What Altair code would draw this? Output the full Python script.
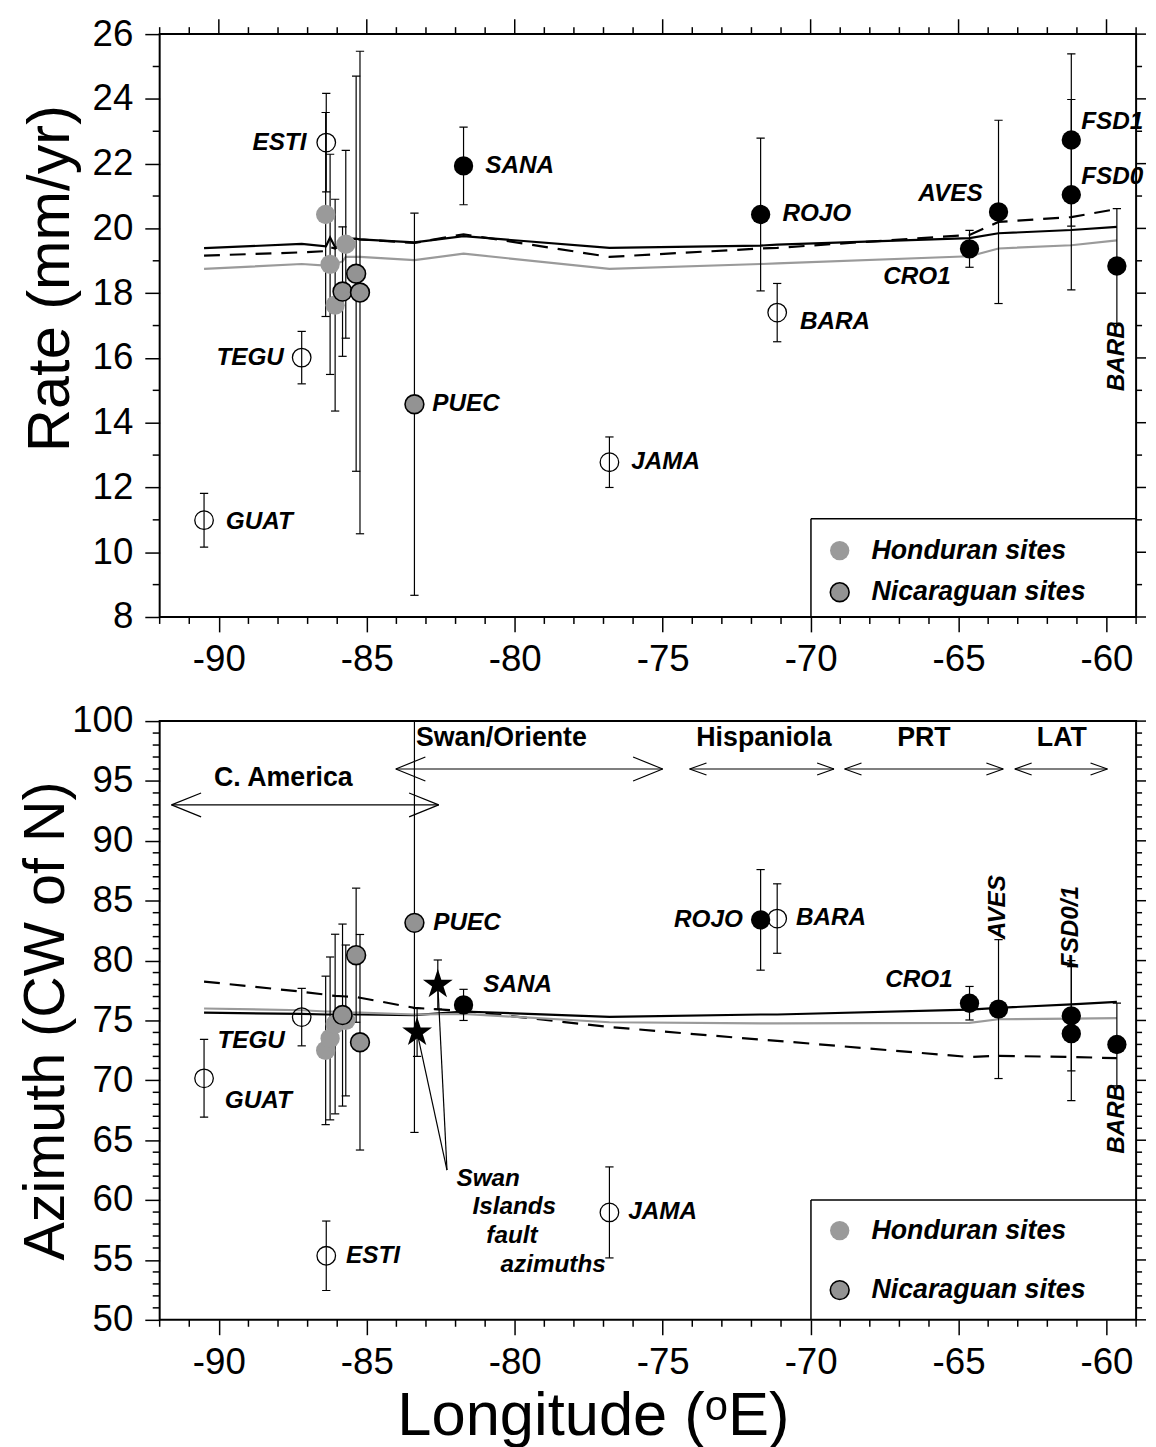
import altair as alt
import pandas as pd

FONT = "Liberation Sans"

# ---------------- data ----------------
sites = ["GUAT", "TEGU", "ESTI", "HON1", "HON2", "HON3", "HON4", "NIC1", "NIC2", "NIC3",
         "PUEC", "SANA", "JAMA", "ROJO", "BARA", "CRO1", "AVES", "FSD0", "FSD1", "BARB"]
kind = ["open", "open", "open", "hond", "hond", "hond", "hond", "nica", "nica", "nica",
        "nica", "black", "open", "black", "open", "black", "black", "black", "black", "black"]
lon = [-90.50, -87.20, -86.37, -86.39, -86.24, -86.07, -85.71, -85.82, -85.36, -85.23,
       -83.39, -81.73, -76.80, -71.69, -71.13, -64.63, -63.65, -61.19, -61.19, -59.65]
rate = [10.99, 16.01, 22.65, 20.43, 18.89, 17.63, 19.51, 18.05, 18.60, 18.02,
        14.57, 21.93, 12.78, 20.43, 17.40, 19.37, 20.51, 21.04, 22.73, 18.84]
rate_err = [0.83, 0.81, 1.52, 3.15, 3.40, 3.27, 2.90, 2.00, 6.10, 7.45,
            5.90, 1.20, 0.78, 2.36, 0.90, 0.57, 2.83, 2.94, 2.66, 1.77]
azimuth = [70.17, 75.28, 55.35, 72.50, 73.50, 74.70, 75.00, 75.45, 80.45, 73.18,
           83.15, 76.30, 58.97, 83.40, 83.51, 76.44, 75.95, 73.90, 75.39, 72.99]
azimuth_err = [3.25, 2.40, 2.90, 6.20, 6.80, 7.50, 6.30, 7.60, 5.60, 9.00,
               17.50, 1.30, 3.80, 4.20, 2.90, 1.40, 5.80, 5.60, 4.60, 3.45]

star_lon = [-83.30, -82.60]
star_az = [74.0, 78.0]
star_err = [2.0, 2.05]

model_lon = [-90.50, -87.20, -86.38, -86.24, -86.07, -85.82, -85.71, -85.36, -85.23,
             -83.39, -81.73, -76.80, -71.69, -71.13, -64.63, -63.65, -61.19, -59.65]
rate_black = [19.39, 19.52, 19.45, 19.72, 19.42, 19.50, 19.70, 19.68, 19.66,
              19.57, 19.76, 19.40, 19.47, 19.50, 19.70, 19.85, 19.95, 20.05]
rate_dash = [19.16, 19.26, 19.30, 19.42, 19.38, 19.52, 19.65, 19.68, 19.66,
             19.55, 19.82, 19.12, 19.38, 19.40, 19.80, 20.20, 20.35, 20.60]
rate_gray = [18.75, 18.90, 18.85, 18.88, 18.90, 18.98, 19.12, 19.12, 19.12,
             19.02, 19.22, 18.75, 18.90, 18.92, 19.14, 19.38, 19.48, 19.63]
az_black = [75.65, 75.55, 75.50, 75.50, 75.50, 75.50, 75.50, 75.50, 75.50,
            75.45, 75.75, 75.30, 75.50, 75.50, 75.90, 76.05, 76.35, 76.55]
az_dash = [78.25, 77.40, 77.15, 77.10, 77.05, 77.02, 77.00, 76.95, 76.90,
           76.05, 75.80, 74.45, 73.40, 73.30, 71.95, 72.05, 71.95, 71.85]
az_gray = [76.00, 75.85, 75.75, 75.75, 75.72, 75.70, 75.68, 75.65, 75.65,
           75.50, 75.55, 74.85, 74.75, 74.75, 74.80, 75.10, 75.15, 75.20]

region_names = ["C. America", "Swan/Oriente", "Hispaniola", "PRT", "LAT"]
region_start = [-91.60, -84.02, -74.09, -68.85, -63.10]
region_end = [-82.57, -75.00, -69.21, -63.49, -59.97]
region_level = [93.0, 96.0, 96.0, 96.0, 96.0]
region_text_lon = [-87.82, -80.45, -71.58, -66.17, -61.51]
region_text_val = [95.2, 98.6, 98.6, 98.6, 98.6]

swan_words = ["Swan", "Islands", "fault", "azimuths"]
swan_word_lon = [-81.97, -81.43, -80.96, -80.48]
swan_word_val = [61.78, 59.38, 56.98, 54.58]
swan_target = [-82.29, 62.5]

legend_names = ["Honduran sites", "Nicaraguan sites"]

x_major = [-90, -85, -80, -75, -70, -65, -60]
x_minor = [v for v in range(-92, -58) if v % 5 != 0]
rate_major = list(range(8, 27, 2))
rate_minor = list(range(9, 26, 2))
az_major = list(range(50, 101, 5))
az_minor = [v for v in range(51, 100) if v % 5 != 0]

# ---------------- layout / style constants ----------------
W = 985
H_TOP = 588
H_BOT = 604
CAP = 0.14  # half width of error-bar caps (degrees of longitude)
STAR = ("M0,-1L0.2245,-0.309L0.951,-0.309L0.363,0.118L0.588,0.809L0,0.382"
        "L-0.588,0.809L-0.363,0.118L-0.951,-0.309L-0.2245,-0.309Z")
XS = alt.Scale(domain=[-92, -59], nice=False, zero=False)
RS = alt.Scale(domain=[8, 26], nice=False, zero=False)
AS = alt.Scale(domain=[50, 100], nice=False, zero=False)
LBL = dict(font=FONT, fontSize=24.5, fontWeight="bold", fontStyle="italic", color="black")
PLAIN = "'' + datum.value"  # hyphen-minus labels, as in the original figure


def x_axis(title=None):
    kw = dict(values=x_major, tickSize=15, tickWidth=1.5, tickColor="black", domain=False,
              grid=False, labelFont=FONT, labelFontSize=37, labelColor="black",
              labelPadding=10, labelFlush=False, labelExpr=PLAIN, title=title)
    if title:
        kw.update(titleFont=FONT, titleFontSize=62, titleFontWeight="normal",
                  titleColor="black", titleX=437, titleY=97, titleBaseline="middle",
                  titleAlign="center")
    return alt.Axis(**kw)


def y_axis(values, title, tx, size, ty=None):
    kw = dict(values=values, tickSize=15, tickWidth=1.5, tickColor="black", domain=False,
              grid=False, labelFont=FONT, labelFontSize=37, labelColor="black",
              labelPadding=12, labelExpr=PLAIN, title=title, titleFont=FONT, titleFontSize=size,
              titleFontWeight="normal", titleColor="black", titleX=tx,
              titleAngle=270, titleBaseline="middle", titleAlign="center")
    if ty is not None:
        kw["titleY"] = ty
    return alt.Axis(**kw)


class Panel:
    """Holds the scales and axes of one panel so every layer shares identical definitions."""

    def __init__(self, ys, xax, yax):
        self.ys, self.xax, self.yax = ys, xax, yax

    def ex(self, field="lon"):
        return alt.X(f"{field}:Q", scale=XS, axis=self.xax)

    def ey(self, field="val"):
        return alt.Y(f"{field}:Q", scale=self.ys, axis=self.yax)


def site_frame(values, errors):
    df = pd.DataFrame({"site": sites, "kind": kind, "lon": lon, "val": values, "err": errors})
    df["lo"] = df["val"] - df["err"]
    df["hi"] = df["val"] + df["err"]
    return df


def model_layers(p, series):
    out = []
    for vals, color, dash in series:
        df = pd.DataFrame({"lon": model_lon, "val": vals})
        mk = dict(color=color, strokeWidth=2.2)
        if dash:
            mk["strokeDash"] = dash
        out.append(alt.Chart(df).mark_line(**mk).encode(x=p.ex(), y=p.ey()))
    return out


def error_layers(p, df):
    bars = alt.Chart(df).mark_rule(color="black", strokeWidth=1.2, clip=True).encode(
        x=p.ex(), y=p.ey("lo"), y2=alt.Y2("hi:Q"))
    caps = pd.DataFrame({
        "lon": list(df["lon"] - CAP) * 2,
        "lon2": list(df["lon"] + CAP) * 2,
        "val": list(df["lo"]) + list(df["hi"]),
    })
    cap_layer = alt.Chart(caps).mark_rule(color="black", strokeWidth=1.2, clip=True).encode(
        x=p.ex(), x2=alt.X2("lon2:Q"), y=p.ey())
    return [bars, cap_layer]


def point_layers(p, df):
    o = alt.Chart(df[df["kind"] == "open"]).mark_point(
        shape="circle", filled=False, size=350, color="black", strokeWidth=1.3, opacity=1
    ).encode(x=p.ex(), y=p.ey())
    h = alt.Chart(df[df["kind"] == "hond"]).mark_circle(
        size=380, color="#9a9a9a", opacity=1).encode(x=p.ex(), y=p.ey())
    n = alt.Chart(df[df["kind"] == "nica"]).mark_point(
        shape="circle", filled=True, size=360, fill="#939393", stroke="black",
        strokeWidth=1.6, opacity=1).encode(x=p.ex(), y=p.ey())
    b = alt.Chart(df[df["kind"] == "black"]).mark_circle(
        size=380, color="black", opacity=1).encode(x=p.ex(), y=p.ey())
    return [o, h, n, b]


def label_layers(p, df, spec):
    out = []
    for site, align, dx, dy in spec:
        sub = df[df["site"] == site].assign(name=site)
        out.append(alt.Chart(sub).mark_text(align=align, baseline="middle", dx=dx, dy=dy, **LBL)
                   .encode(x=p.ex(), y=p.ey(), text="name:N"))
    return out


def rotated_labels(p, names, lons, vals):
    df = pd.DataFrame({"lon": lons, "val": vals, "name": names})
    return alt.Chart(df).mark_text(angle=270, align="center", baseline="middle", **LBL).encode(
        x=p.ex(), y=p.ey(), text="name:N")


def tick_layers(p, H, y_major, y_minor, top_major, top_minor):
    out = []
    one = dict(color="black", strokeWidth=1.5)
    out.append(alt.Chart(pd.DataFrame({"lon": x_minor})).mark_rule(**one).encode(
        x=p.ex(), y=alt.value(H), y2=alt.value(H + 7)))
    if top_major:
        out.append(alt.Chart(pd.DataFrame({"lon": x_major})).mark_rule(**one).encode(
            x=p.ex(), y=alt.value(0), y2=alt.value(-top_major)))
        out.append(alt.Chart(pd.DataFrame({"lon": x_minor})).mark_rule(**one).encode(
            x=p.ex(), y=alt.value(0), y2=alt.value(-top_minor)))
    out.append(alt.Chart(pd.DataFrame({"val": y_minor})).mark_rule(**one).encode(
        y=p.ey(), x=alt.value(0), x2=alt.value(-7)))
    out.append(alt.Chart(pd.DataFrame({"val": y_major})).mark_rule(**one).encode(
        y=p.ey(), x=alt.value(W), x2=alt.value(W + 10)))
    out.append(alt.Chart(pd.DataFrame({"val": y_minor})).mark_rule(**one).encode(
        y=p.ey(), x=alt.value(W), x2=alt.value(W + 6)))
    return out


def legend_layers(y0, H, ys_entries):
    one = pd.DataFrame({"a": [0]})
    edge = dict(color="black", strokeWidth=1.5)
    out = [
        alt.Chart(one).mark_rule(**edge).encode(x=alt.value(657), y=alt.value(y0), y2=alt.value(H)),
        alt.Chart(one).mark_rule(**edge).encode(x=alt.value(657), x2=alt.value(W), y=alt.value(y0)),
        alt.Chart(one).mark_circle(size=380, color="#9a9a9a", opacity=1).encode(
            x=alt.value(686), y=alt.value(ys_entries[0])),
        alt.Chart(one).mark_point(shape="circle", filled=True, size=360, fill="#939393",
                                  stroke="black", strokeWidth=1.6, opacity=1).encode(
            x=alt.value(686), y=alt.value(ys_entries[1])),
    ]
    for name, yy in zip(legend_names, ys_entries):
        out.append(alt.Chart(one).mark_text(text=name, align="left", baseline="middle",
                                            font=FONT, fontSize=27, fontWeight="bold",
                                            fontStyle="italic", color="black").encode(
            x=alt.value(718), y=alt.value(yy)))
    return out


# ---------------- top panel: rate ----------------
P1 = Panel(RS, x_axis(), y_axis(rate_major, "Rate (mm/yr)", -110, 60, 246))
top_df = site_frame(rate, rate_err)
top_layers = []
top_layers += model_layers(P1, [(rate_black, "black", None), (rate_dash, "black", [16, 10]),
                                (rate_gray, "#9a9a9a", None)])
top_layers += error_layers(P1, top_df)
top_layers += point_layers(P1, top_df)
top_layers += label_layers(P1, top_df, [
    ("ESTI", "right", -20, 0), ("SANA", "left", 22, 0), ("TEGU", "right", -18, 0),
    ("PUEC", "left", 18, 0), ("GUAT", "left", 22, 2), ("JAMA", "left", 22, 0),
    ("ROJO", "left", 22, 0), ("BARA", "left", 23, 10), ("CRO1", "right", -19, 28),
    ("AVES", "right", -16, -18), ("FSD1", "left", 10, -18), ("FSD0", "left", 10, -18)])
top_layers.append(rotated_labels(P1, ["BARB"], [-59.65], [16.05]))
top_layers += legend_layers(489, H_TOP, [521, 563])
top_layers += tick_layers(P1, H_TOP, rate_major, rate_minor, 15, 7)
top = alt.layer(*top_layers).properties(width=W, height=H_TOP)

# ---------------- bottom panel: azimuth ----------------
P2 = Panel(AS, x_axis("Longitude (\u1d52E)"), y_axis(az_major, "Azimuth (CW of N)", -114, 58))
bot_df = site_frame(azimuth, azimuth_err)
star_df = pd.DataFrame({"lon": star_lon, "val": star_az, "err": star_err})
star_df["lo"] = star_df["val"] - star_df["err"]
star_df["hi"] = star_df["val"] + star_df["err"]

bot_layers = []
bot_layers += model_layers(P2, [(az_black, "black", None), (az_dash, "black", [16, 10]),
                                (az_gray, "#9a9a9a", None)])
reg_df = pd.DataFrame({"lon": region_start, "lon2": region_end, "val": region_level})
bot_layers.append(alt.Chart(reg_df).mark_rule(color="black", strokeWidth=1.2).encode(
    x=P2.ex(), x2=alt.X2("lon2:Q"), y=P2.ey()))
head_len = [1.0, 1.0, 0.57, 0.57, 0.57]
head_half = [1.0, 1.0, 0.5, 0.5, 0.5]
segs = {"lon": [], "val": [], "lon2": [], "val2": []}
for s, e, lev, hl, hh in zip(region_start, region_end, region_level, head_len, head_half):
    for sign in (1, -1):
        for tip, back in ((s, s + hl), (e, e - hl)):
            segs["lon"].append(tip)
            segs["val"].append(lev)
            segs["lon2"].append(back)
            segs["val2"].append(lev + sign * hh)
bot_layers.append(alt.Chart(pd.DataFrame(segs)).mark_rule(color="black", strokeWidth=1.2).encode(
    x=P2.ex(), x2=alt.X2("lon2:Q"), y=P2.ey(), y2=alt.Y2("val2:Q")))
reg_txt = pd.DataFrame({"lon": region_text_lon, "val": region_text_val, "name": region_names})
bot_layers.append(alt.Chart(reg_txt).mark_text(font=FONT, fontSize=27, fontWeight="bold",
                                               color="black", align="center", baseline="middle")
                  .encode(x=P2.ex(), y=P2.ey(), text="name:N"))
ptr = pd.DataFrame({"lon": star_lon, "val": star_az,
                    "lon2": [swan_target[0]] * 2, "val2": [swan_target[1]] * 2})
bot_layers.append(alt.Chart(ptr).mark_rule(color="black", strokeWidth=1.2).encode(
    x=P2.ex(), x2=alt.X2("lon2:Q"), y=P2.ey(), y2=alt.Y2("val2:Q")))
sw = pd.DataFrame({"lon": swan_word_lon, "val": swan_word_val, "name": swan_words})
bot_layers.append(alt.Chart(sw).mark_text(align="left", baseline="middle", **LBL).encode(
    x=P2.ex(), y=P2.ey(), text="name:N"))
bot_layers += error_layers(P2, bot_df)
bot_layers += error_layers(P2, star_df)
bot_layers.append(alt.Chart(star_df).mark_point(shape=STAR, filled=True, color="black",
                                                size=1000, opacity=1).encode(x=P2.ex(), y=P2.ey()))
bot_layers += point_layers(P2, bot_df)
bot_layers += label_layers(P2, bot_df, [
    ("PUEC", "left", 19, 0), ("SANA", "left", 20, -20), ("TEGU", "right", -17, 24),
    ("GUAT", "left", 21, 23), ("ESTI", "left", 20, 0), ("JAMA", "left", 19, 0),
    ("ROJO", "right", -18, 0), ("BARA", "left", 19, 0), ("CRO1", "right", -17, -23)])
bot_layers.append(rotated_labels(P2, ["AVES", "FSD0/1", "BARB"],
                                 [-63.65, -61.19, -59.65], [84.46, 82.8, 66.8]))
bot_layers += legend_layers(483, H_BOT, [514, 574])
bot_layers += tick_layers(P2, H_BOT, az_major, az_minor, 0, 0)
bottom = alt.layer(*bot_layers).properties(width=W, height=H_BOT)

chart = alt.vconcat(top, bottom, spacing=23).properties(
    padding={"left": 9, "top": 0, "right": 0, "bottom": 0}
).configure_view(stroke="black", strokeWidth=2)

chart.save("out.html", embed_options={"renderer": "svg", "actions": False})
